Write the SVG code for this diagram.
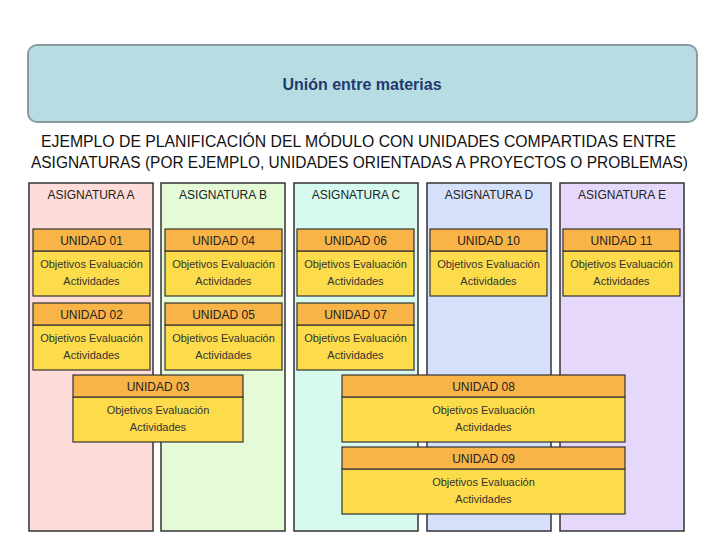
<svg xmlns="http://www.w3.org/2000/svg" width="720" height="540" viewBox="0 0 720 540">
<style>
.col{stroke:#333;stroke-width:1.5}
.hd{fill:#f8b447;stroke:#333;stroke-width:1.2}
.bd{fill:#fddc4c;stroke:#333;stroke-width:1.2}
.t{font-family:"Liberation Sans",Arial,sans-serif;font-size:12px;fill:#222;text-anchor:middle}
.b{font-family:"Liberation Sans",Arial,sans-serif;font-size:11px;fill:#333;text-anchor:middle}
.h{font-family:"Liberation Sans",Arial,sans-serif;font-size:16px;fill:#111}
</style>
<rect width="720" height="540" fill="#fff"/>
<g id="title"><rect x="28" y="45" width="669" height="77" rx="9" fill="#b7dde3" stroke="#8a9aa0" stroke-width="2"/>
<text x="362" y="90" font-family="Liberation Sans,Arial,sans-serif" font-size="16" font-weight="bold" fill="#1f3a6e" text-anchor="middle">Unión entre materias</text></g>
<g id="heading"><text class="h" x="41" y="147" textLength="635" lengthAdjust="spacingAndGlyphs">EJEMPLO DE PLANIFICACIÓN DEL MÓDULO CON UNIDADES COMPARTIDAS ENTRE</text>
<text class="h" x="31" y="168" textLength="657" lengthAdjust="spacingAndGlyphs">ASIGNATURAS (POR EJEMPLO, UNIDADES ORIENTADAS A PROYECTOS O PROBLEMAS)</text></g>
<g id="colA"><rect class="col" x="29" y="183" width="124" height="348" fill="#fddcda"/><text class="t" x="91" y="199">ASIGNATURA A</text></g>
<g id="colB"><rect class="col" x="161" y="183" width="124" height="348" fill="#e5fbd8"/><text class="t" x="223" y="199">ASIGNATURA B</text></g>
<g id="colC"><rect class="col" x="294" y="183" width="124" height="348" fill="#d6fbee"/><text class="t" x="356" y="199">ASIGNATURA C</text></g>
<g id="colD"><rect class="col" x="427" y="183" width="124" height="348" fill="#d5e1fb"/><text class="t" x="489" y="199">ASIGNATURA D</text></g>
<g id="colE"><rect class="col" x="560" y="183" width="124" height="348" fill="#e6d8fb"/><text class="t" x="622" y="199">ASIGNATURA E</text></g>
<defs>
<g id="u"><rect class="bd" x="0" y="22" width="117" height="45"/><rect class="hd" x="0" y="0" width="117" height="22"/>
<text class="b" x="58.5" y="39">Objetivos  Evaluación</text><text class="b" x="58.5" y="56">Actividades</text></g>
</defs>
<g id="u01"><use href="#u" x="33" y="229"/><text class="t" x="91.5" y="245">UNIDAD 01</text></g>
<g id="u04"><use href="#u" x="165" y="229"/><text class="t" x="223.5" y="245">UNIDAD 04</text></g>
<g id="u06"><use href="#u" x="297" y="229"/><text class="t" x="355.5" y="245">UNIDAD 06</text></g>
<g id="u10"><use href="#u" x="430" y="229"/><text class="t" x="488.5" y="245">UNIDAD 10</text></g>
<g id="u11"><use href="#u" x="563" y="229"/><text class="t" x="621.5" y="245">UNIDAD 11</text></g>
<g id="u02"><use href="#u" x="33" y="303"/><text class="t" x="91.5" y="319">UNIDAD 02</text></g>
<g id="u05"><use href="#u" x="165" y="303"/><text class="t" x="223.5" y="319">UNIDAD 05</text></g>
<g id="u07"><use href="#u" x="297" y="303"/><text class="t" x="355.5" y="319">UNIDAD 07</text></g>
<g id="u03"><rect class="bd" x="73" y="397" width="170" height="45"/><rect class="hd" x="73" y="375" width="170" height="22"/>
<text class="t" x="158" y="391">UNIDAD 03</text><text class="b" x="158" y="414">Objetivos  Evaluación</text><text class="b" x="158" y="431">Actividades</text></g>
<g id="u08"><rect class="bd" x="342" y="397" width="283" height="45"/><rect class="hd" x="342" y="375" width="283" height="22"/>
<text class="t" x="483.5" y="391">UNIDAD 08</text><text class="b" x="483.5" y="414">Objetivos  Evaluación</text><text class="b" x="483.5" y="431">Actividades</text></g>
<g id="u09"><rect class="bd" x="342" y="469" width="283" height="45"/><rect class="hd" x="342" y="447" width="283" height="22"/>
<text class="t" x="483.5" y="463">UNIDAD 09</text><text class="b" x="483.5" y="486">Objetivos  Evaluación</text><text class="b" x="483.5" y="503">Actividades</text></g>
<g id="connectors"/>
</svg>
